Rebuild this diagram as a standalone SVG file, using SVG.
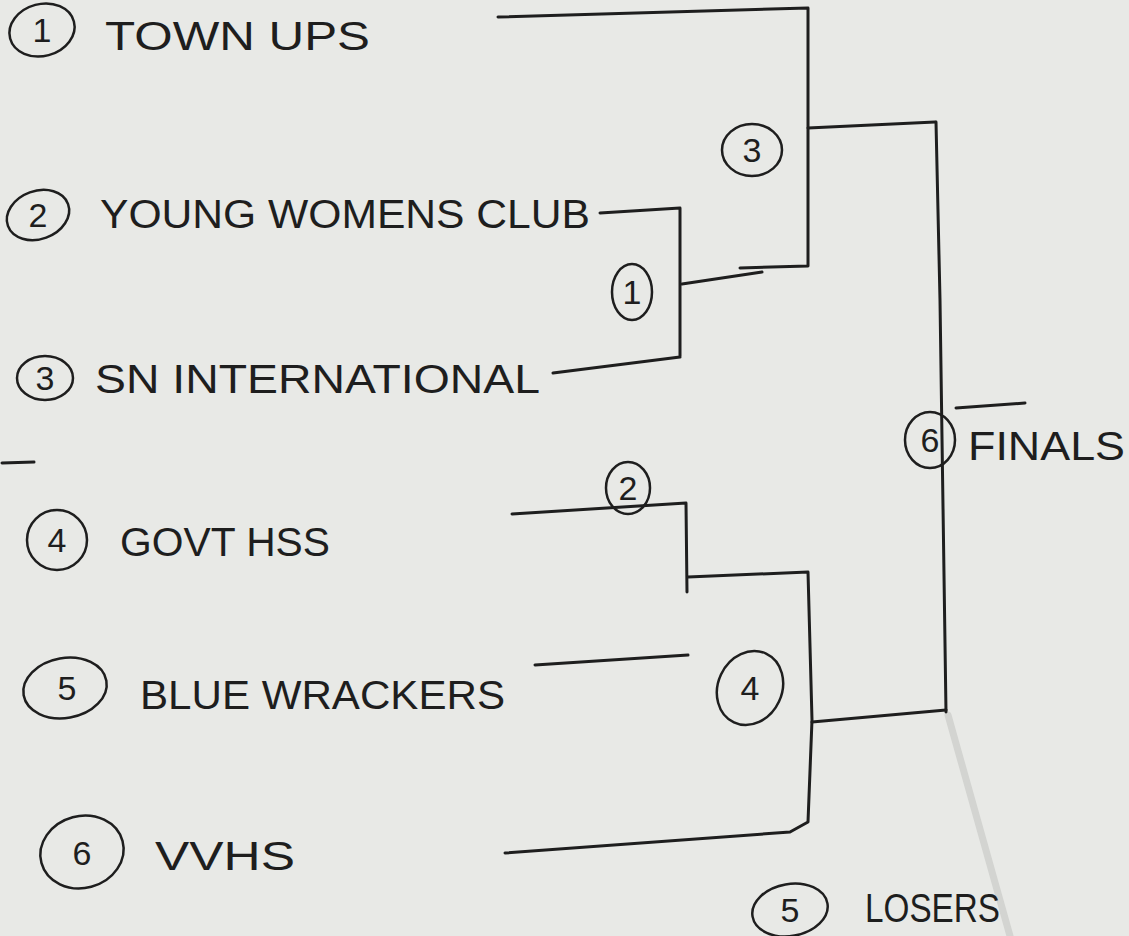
<svg xmlns="http://www.w3.org/2000/svg" width="1129" height="936" viewBox="0 0 1129 936">
<defs>
<style>
.bg{fill:#e8e9e6}
.ink{fill:none;stroke:#1e1e1e;stroke-width:3;stroke-linecap:round;stroke-linejoin:round}
.ring{fill:none;stroke:#1e1e1e;stroke-width:2.5}
.lbl{font-family:"Liberation Sans",Arial,sans-serif;fill:#1e1e1e;font-size:40px}
.num{font-family:"Liberation Sans",Arial,sans-serif;fill:#1e1e1e;font-size:34px;text-anchor:middle}
.faint{fill:none;stroke:#d3d4d1;stroke-width:7;stroke-linecap:round}
</style>
</defs>
<rect class="bg" x="0" y="0" width="1129" height="936"/>
<path class="faint" d="M948,715 L1010,936"/>

<g id="team1">
<ellipse class="ring" cx="42" cy="30" rx="33" ry="26" transform="rotate(-15 42 30)"/>
<text class="num" x="42" y="42">1</text>
<text class="lbl" x="105" y="50" font-size="44" textLength="265" lengthAdjust="spacingAndGlyphs">TOWN UPS</text>
</g>
<g id="team2">
<ellipse class="ring" cx="38" cy="215" rx="32" ry="24" transform="rotate(-20 38 215)"/>
<text class="num" x="38" y="227">2</text>
<text class="lbl" x="100" y="228" font-size="36" textLength="490" lengthAdjust="spacingAndGlyphs">YOUNG WOMENS CLUB</text>
</g>
<g id="team3">
<ellipse class="ring" cx="45" cy="378" rx="28" ry="22"/>
<text class="num" x="45" y="390">3</text>
<text class="lbl" x="95" y="393" font-size="42" textLength="445" lengthAdjust="spacingAndGlyphs">SN INTERNATIONAL</text>
</g>
<path class="ink" d="M2,463 L34,462"/>
<g id="team4">
<ellipse class="ring" cx="57" cy="540" rx="30" ry="30"/>
<text class="num" x="57" y="552">4</text>
<text class="lbl" x="120" y="556" textLength="210" lengthAdjust="spacingAndGlyphs">GOVT HSS</text>
</g>
<g id="team5">
<ellipse class="ring" cx="65" cy="688" rx="42" ry="30" transform="rotate(-10 65 688)"/>
<text class="num" x="67" y="700">5</text>
<text class="lbl" x="140" y="709" font-size="42" textLength="365" lengthAdjust="spacingAndGlyphs">BLUE WRACKERS</text>
</g>
<g id="team6">
<ellipse class="ring" cx="82" cy="852" rx="42" ry="36" transform="rotate(-15 82 852)"/>
<text class="num" x="82" y="865">6</text>
<text class="lbl" x="155" y="870" font-size="44" textLength="140" lengthAdjust="spacingAndGlyphs">VVHS</text>
</g>

<g id="match1">
<ellipse class="ring" cx="632" cy="292" rx="20" ry="28"/>
<text class="num" x="632" y="304">1</text>
</g>
<g id="match2">
<ellipse class="ring" cx="628" cy="488" rx="22" ry="26"/>
<text class="num" x="628" y="500">2</text>
</g>
<g id="match3">
<ellipse class="ring" cx="752" cy="150" rx="30" ry="26"/>
<text class="num" x="752" y="162">3</text>
</g>
<g id="match4">
<ellipse class="ring" cx="750" cy="688" rx="32" ry="38" transform="rotate(25 750 688)"/>
<text class="num" x="750" y="700">4</text>
</g>
<g id="final">
<ellipse class="ring" cx="930" cy="440" rx="25" ry="28"/>
<text class="num" x="930" y="452">6</text>
<text class="lbl" x="968" y="460" font-size="36" textLength="157" lengthAdjust="spacingAndGlyphs">FINALS</text>
</g>
<g id="losers">
<ellipse class="ring" cx="790" cy="910" rx="38" ry="26" transform="rotate(-10 790 910)"/>
<text class="num" x="790" y="922">5</text>
<text class="lbl" x="865" y="922" font-size="36" textLength="135" lengthAdjust="spacingAndGlyphs">LOSERS</text>
</g>

<g id="connectors">
<path class="ink" d="M600,213 L680,208 L680,356 M553,373 L680,357"/>
<path class="ink" d="M682,284 L762,272"/>
<path class="ink" d="M498,17 L808,8 L808,266 L740,268"/>
<path class="ink" d="M808,128 L935,122"/>
<path class="ink" d="M936,122 L940,300 L946,712"/>
<path class="ink" d="M956,408 L1025,403"/>
<path class="ink" d="M512,514 L686,503 L687,592"/>
<path class="ink" d="M535,665 L688,655"/>
<path class="ink" d="M688,577 L808,572 L812,720 L808,822 L790,832 L505,853"/>
<path class="ink" d="M812,722 L946,710"/>
</g>
</svg>
